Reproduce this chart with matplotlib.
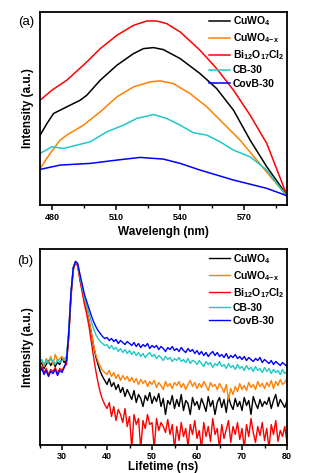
import numpy as np
import matplotlib
matplotlib.use("Agg")
import matplotlib.pyplot as plt
from matplotlib.ticker import MultipleLocator, NullLocator

plt.rcParams['font.family'] = ['Liberation Sans', 'DejaVu Sans']
plt.rcParams['mathtext.fontset'] = 'custom'
plt.rcParams['mathtext.bf'] = 'Liberation Sans:bold'
plt.rcParams['mathtext.rm'] = 'Liberation Sans:bold'
plt.rcParams['mathtext.default'] = 'bf'

# ---------------- data ----------------
labels = ['CuWO$_4$', 'CuWO$_{4\\mathrm{-}x}$', 'Bi$_{12}$O$_{17}$Cl$_2$', 'CB-30', 'CovB-30']
colors = ['#000000', '#ff7f00', '#ff0000', '#1ec8c8', '#0000ff']

# Panel (a): PL spectra
wl_black = [474.5, 477.7, 480.8, 487.0, 493.3, 496.4, 502.7, 510.5, 518.3, 523.0, 527.7, 532.3, 540.2, 549.5, 557.3, 565.2, 573.0, 580.8, 590.2]
pl_black = [210, 245, 275, 295, 315, 330, 375, 420, 455, 470, 473, 467, 440, 395, 350, 285, 195, 115, 30]

wl_orange = [474.5, 479.2, 483.9, 487.0, 494.8, 502.7, 510.5, 518.3, 526.1, 530.8, 537.0, 544.8, 552.7, 560.5, 568.3, 576.1, 583.9, 590.2]
pl_orange = [110, 155, 195, 210, 240, 280, 325, 355, 370, 373, 365, 335, 295, 245, 195, 135, 75, 30]

wl_red = [474.5, 480.0, 487.0, 496.4, 502.7, 510.5, 518.3, 524.5, 529.2, 533.9, 540.2, 549.5, 557.3, 565.2, 573.0, 580.8, 590.2]
pl_red = [315, 345, 375, 430, 470, 510, 540, 553, 553, 545, 520, 465, 410, 345, 270, 185, 30]

wl_cyan = [474.5, 480.0, 485.5, 491.7, 498.0, 505.8, 513.6, 519.8, 527.7, 533.9, 540.2, 546.4, 552.7, 558.9, 565.2, 573.0, 580.8, 590.2]
pl_cyan = [155, 175, 170, 180, 190, 220, 240, 260, 272, 260, 240, 217, 210, 190, 165, 145, 105, 25]

wl_blue = [474.5, 483.9, 498.0, 510.5, 521.4, 532.3, 540.2, 549.5, 565.2, 580.8, 590.2]
pl_blue = [107, 120, 125, 135, 143, 138, 125, 105, 75, 50, 28]

wl_list = [wl_black, wl_orange, wl_red, wl_cyan, wl_blue]
pl_list = [pl_black, pl_orange, pl_red, pl_cyan, pl_blue]

# Panel (b): TRPL decays (0.5 ns channels from 25 to 80 ns)
t_start, t_end, t_step = 25.0, 80.0, 0.5

tr_black = [78, 82, 76, 80, 84, 79, 83, 78, 82, 80, 86, 82,
            84, 110, 150, 176, 183, 179, 166, 154, 143,
            134, 124, 112, 99, 88, 80, 73, 68, 64, 60,
            66, 58, 62, 55, 60, 52, 57, 48, 55, 50,
            45, 54, 42, 50, 46, 38, 49, 44, 52, 41,
            48, 43, 51, 38, 46, 30, 44, 40, 49, 36,
            45, 38, 50, 34, 44, 41, 30, 47, 39, 43,
            35, 46, 40, 33, 48, 38, 44, 30, 42, 47,
            37, 45, 32, 48, 40, 35, 46, 38, 43, 34,
            47, 39, 44, 30, 48, 41, 36, 45, 38, 43,
            40, 47, 36, 44, 50, 38, 45, 41, 37, 44]
tr_orange = [80, 84, 78, 86, 82, 88, 80, 90, 84, 86, 88, 84,
             86, 112, 150, 176, 183, 179, 166, 154, 143,
             134, 124, 112, 100, 90, 83, 78, 74, 72, 70,
             74, 68, 72, 66, 70, 64, 69, 65, 68, 63,
             67, 62, 66, 60, 65, 61, 64, 58, 63, 60,
             64, 57, 62, 59, 55, 63, 58, 61, 56, 62,
             59, 63, 57, 61, 55, 60, 64, 58, 62, 56,
             61, 57, 63, 59, 54, 62, 58, 60, 55, 61,
             57, 52, 60, 45, 56, 50, 58, 53, 61, 55,
             59, 54, 62, 57, 60, 55, 63, 58, 61, 56,
             62, 58, 64, 56, 63, 59, 65, 60, 62, 66]
tr_red = [74, 78, 72, 76, 70, 75, 73, 77, 71, 76, 74, 78,
          80, 106, 147, 174, 182, 178, 164, 152, 140,
          130, 118, 103, 88, 74, 62, 52, 45, 40, 36,
          42, 28, 38, 24, 35, 30, 22, 36, 18, 28,
          -4, 30, 20, 26, -4, 24, 16, 30, 20, 22,
          -4, 26, 14, 22, 18, 12, 25, 10, 20, -4,
          18, 4, 22, 8, 16, -2, 20, 10, 24, 6,
          14, -4, 22, 8, 18, 3, 26, 10, 16, -4,
          20, 6, 15, 24, 2, 18, 10, 22, 5, 16,
          -4, 20, 8, 26, 12, 2, 18, 9, 22, 4,
          16, -4, 20, 10, 24, 3, 14, 8, 18, 2]
tr_cyan = [82, 85, 80, 84, 81, 86, 83, 80, 85, 82, 84, 86,
           88, 114, 153, 177, 183, 180, 168, 157, 147,
           139, 131, 123, 116, 110, 106, 103, 101, 99, 100,
           96, 99, 95, 97, 93, 96, 92, 95, 91, 94,
           90, 93, 89, 92, 88, 91, 87, 90, 92, 88,
           90, 86, 89, 87, 84, 88, 85, 87, 83, 86,
           84, 87, 83, 85, 82, 86, 81, 84, 83, 80,
           84, 81, 78, 83, 80, 82, 77, 81, 79, 83,
           78, 80, 76, 81, 77, 79, 75, 80, 76, 78,
           74, 79, 75, 77, 73, 78, 74, 76, 72, 77,
           73, 76, 71, 75, 72, 74, 70, 75, 71, 73]
tr_blue = [72, 76, 70, 74, 68, 73, 71, 75, 69, 74, 72, 77,
           84, 112, 152, 177, 183, 181, 170, 160, 150,
           143, 136, 129, 123, 118, 114, 111, 108, 106, 107,
           104, 106, 103, 105, 101, 104, 102, 100, 103, 101,
           99, 102, 98, 101, 97, 100, 98, 101, 96, 99,
           97, 99, 95, 98, 96, 93, 97, 95, 98, 94,
           96, 93, 97, 94, 92, 96, 93, 95, 91, 94,
           90, 93, 89, 92, 88, 91, 93, 89, 92, 88,
           90, 87, 91, 86, 89, 87, 90, 86, 88, 85,
           88, 84, 87, 85, 83, 86, 84, 87, 82, 85,
           83, 81, 84, 80, 83, 81, 79, 82, 80, 78]
tr_list = [tr_black, tr_orange, tr_red, tr_cyan, tr_blue]

# ---------------- figure ----------------
W, H = 321, 473
fig = plt.figure(figsize=(W / 100, H / 100), dpi=100)

def px_axes(l, t, r, b):
    return fig.add_axes([l / W, 1 - b / H, (r - l) / W, (b - t) / H])

ax1 = px_axes(39.5, 12, 287, 205)
ax2 = px_axes(39.5, 249.5, 287, 444.5)

for wl, pl, c, lab in zip(wl_list, pl_list, colors, labels):
    ax1.plot(wl, pl, color=c, lw=1.1, label=lab)
ax1.set_xlim(474.2, 590.3)
ax1.set_ylim(0, 580)
ax1.xaxis.set_major_locator(MultipleLocator(30))
ax1.xaxis.set_minor_locator(MultipleLocator(15))
ax1.set_xlabel('Wavelengh (nm)', fontsize=8.5, fontweight='bold', labelpad=3)
ax1.set_ylabel('Intensity (a.u.)', fontsize=8.5, fontweight='bold', labelpad=4)

t = np.arange(t_start, t_end + t_step / 2, t_step)
for tr, c, lab in zip(tr_list, colors, labels):
    ax2.plot(t, tr, color=c, lw=1.0, label=lab)
ax2.set_xlim(25, 80)
ax2.set_ylim(0, 195)
ax2.xaxis.set_major_locator(MultipleLocator(10))
ax2.xaxis.set_minor_locator(MultipleLocator(5))
ax2.set_xlabel('Lifetime (ns)', fontsize=8.5, fontweight='bold', labelpad=0)
ax2.set_ylabel('Intensity (a.u.)', fontsize=8.5, fontweight='bold', labelpad=4)

for ax in (ax1, ax2):
    ax.yaxis.set_major_locator(NullLocator())
    ax.yaxis.set_minor_locator(NullLocator())
    for s in ax.spines.values():
        s.set_linewidth(1.3)
    ax.tick_params(axis='x', which='major', direction='out', length=3.5, width=1.1,
                   labelsize=6.5, pad=2)
    ax.tick_params(axis='x', which='minor', direction='out', length=2, width=1.0)
    for lbl in ax.get_xticklabels():
        lbl.set_fontweight('bold')
    ax.legend(loc='upper right', frameon=False, handlelength=2.0,
              handletextpad=0.25, labelspacing=0.3, borderaxespad=0.05,
              borderpad=0.2, prop={'weight': 'bold', 'size': 7.5})

fig.text(18 / W, 1 - 22 / H, '(a)', fontsize=9.5, ha='left', va='center',
         fontweight='normal', family='Liberation Sans')
fig.text(17 / W, 1 - 261 / H, '(b)', fontsize=9.5, ha='left', va='center',
         fontweight='normal', family='Liberation Sans')

fig.savefig('out.png', dpi=100)
